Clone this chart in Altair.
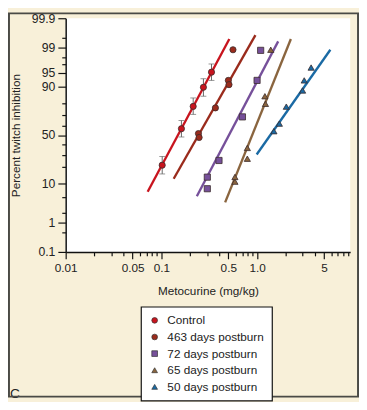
import altair as alt
import pandas as pd
from statistics import NormalDist

# ---------------- data ----------------
series = ["Control", "463 days postburn", "72 days postburn", "65 days postburn", "50 days postburn"]
colors = ["#C8141E", "#9A2B1C", "#76509A", "#8A653F", "#1A6AA4"]
shapes = ["circle", "circle", "square", "triangle-up", "triangle-up"]

control_dose = [0.102, 0.162, 0.215, 0.275, 0.334]
control_pct = [21.3, 56.7, 77.6, 89.7, 95.2]
control_lo = [15.2, 48.0, 70.8, 84.8, 92.6]
control_hi = [28.6, 65.0, 83.7, 93.2, 97.0]

d463_dose = [0.244, 0.248, 0.367, 0.501, 0.509, 0.560]
d463_pct = [51.6, 47.5, 76.4, 92.6, 90.9, 98.8]

d72_dose = [0.302, 0.302, 0.400, 0.703, 1.00, 1.09]
d72_pct = [7.8, 13.3, 25.1, 68.5, 92.6, 98.75]

d65_dose = [0.587, 0.587, 0.791, 0.791, 1.207, 1.224, 1.39]
d65_pct = [10.9, 13.4, 26.6, 36.7, 84.8, 79.6, 98.8]

d50_dose = [1.50, 1.71, 2.02, 2.99, 3.11, 3.67]
d50_pct = [54.1, 61.9, 77.4, 88.1, 92.6, 96.3]

# fitted regression lines: start and end points per series
line_dose_start = [0.0719, 0.1345, 0.2347, 0.4638, 0.9906]
line_pct_start = [6.7, 12.4, 5.3, 3.75, 30.4]
line_dose_end = [0.513, 0.961, 1.661, 2.255, 5.83]
line_pct_end = [99.45, 99.59, 99.34, 99.45, 98.8]

# axis ticks
x_major = [0.01, 0.05, 0.1, 0.5, 1, 5]
x_major_text = ["0.01", "0.05", "0.1", "0.5", "1.0", "5"]
x_minor = [0.02, 0.03, 0.04, 0.06, 0.07, 0.08, 0.09,
           0.2, 0.3, 0.4, 0.6, 0.7, 0.8, 0.9,
           2, 3, 4, 6, 7, 8, 9]
y_major = [0.1, 1, 10, 50, 90, 95, 99, 99.9]
y_major_text = ["0.1", "1", "10", "50", "90", "95", "99", "99.9"]
y_minor = [0.5, 2, 5, 20, 30, 40, 60, 70, 80, 97, 98, 99.5]

# ---------------- tables ----------------
pts = []
for name, d, p in [(series[0], control_dose, control_pct), (series[1], d463_dose, d463_pct),
                   (series[2], d72_dose, d72_pct), (series[3], d65_dose, d65_pct),
                   (series[4], d50_dose, d50_pct)]:
    for a, b in zip(d, p):
        pts.append({"series": name, "dose": a, "pct": b})
pts = pd.DataFrame(pts)

err = pd.DataFrame({"series": series[0], "dose": control_dose, "lo": control_lo, "hi": control_hi})

# ---------------- helpers ----------------
nd = NormalDist()
def probit(p):
    return nd.inv_cdf(p / 100.0)

def label_expr(values, texts):
    e = ""
    for v, t in zip(values, texts):
        e += f"datum.value == {v!r} ? '{t}' : "
    return e + "''"

def major_test(values):
    return " || ".join(f"datum.value == {v!r}" for v in values)

y_major_z = [probit(p) for p in y_major]
y_minor_z = [probit(p) for p in y_minor]
zmax = probit(99.9)

FONT = "Liberation Sans"

x_axis = alt.Axis(
    values=x_major + x_minor,
    labelExpr=label_expr(x_major, x_major_text),
    tickSize={"condition": {"test": major_test(x_major), "value": 7}, "value": 4},
    labelOverlap=False, labelFlush=False, grid=False,
    domainColor="#111", domainWidth=1.5, tickColor="#111", tickWidth=1.2,
    labelFont=FONT, labelFontSize=12, labelColor="#222", labelPadding=4,
    titleFont=FONT, titleFontSize=12, titleFontWeight="normal", titleColor="#222", titlePadding=13,
)
y_axis = alt.Axis(
    values=y_major_z + y_minor_z,
    labelExpr=label_expr(y_major_z, y_major_text),
    tickSize={"condition": {"test": major_test(y_major_z), "value": 8}, "value": 4},
    labelOverlap=False, labelFlush=False, grid=False,
    domainColor="#111", domainWidth=1.5, tickColor="#111", tickWidth=1.2,
    labelFont=FONT, labelFontSize=12.5, labelColor="#222", labelPadding=3,
    titleFont=FONT, titleFontSize=12, titleFontWeight="normal", titleColor="#222", titlePadding=9,
)

x_scale = alt.Scale(type="log", domain=[0.01, 9.4], nice=False)
y_scale = alt.Scale(domain=[-zmax, zmax], nice=False, zero=False)
X = alt.X("dose:Q", scale=x_scale, axis=x_axis, title="Metocurine (mg/kg)")
Y = alt.Y("z:Q", scale=y_scale, axis=y_axis, title="Percent twitch inhibition")

legend = alt.Legend(
    orient="none", legendX=77, legendY=295, title=None,
    padding=8, strokeColor="#111", fillColor="white",
    labelFont=FONT, labelFontSize=12, labelColor="#222", labelOffset=7,
    symbolSize=34, rowPadding=5, symbolStrokeColor="#333", symbolStrokeWidth=0.7,
)
color = alt.Color("series:N", scale=alt.Scale(domain=series, range=colors), legend=legend)
shape = alt.Shape("series:N", scale=alt.Scale(domain=series, range=shapes), legend=legend)

# one fitted line per series, each with its own constant colour
line_layers = []
for i, name in enumerate(series):
    df = pd.DataFrame({"dose": [line_dose_start[i], line_dose_end[i]],
                       "pct": [line_pct_start[i], line_pct_end[i]]})
    line_layers.append(
        alt.Chart(df).transform_calculate(z="quantileNormal(datum.pct / 100)")
        .mark_line(strokeWidth=2.4, color=colors[i]).encode(x=X, y=Y)
    )

err_rule = alt.Chart(err).transform_calculate(
    z="quantileNormal(datum.lo / 100)", z2="quantileNormal(datum.hi / 100)"
).mark_rule(color="#666", strokeWidth=1).encode(x=X, y=Y, y2="z2:Q")

err_lo = alt.Chart(err).transform_calculate(
    z="quantileNormal(datum.lo / 100)"
).mark_tick(color="#666", orient="horizontal", size=6, thickness=1).encode(x=X, y=Y)

err_hi = alt.Chart(err).transform_calculate(
    z="quantileNormal(datum.hi / 100)"
).mark_tick(color="#666", orient="horizontal", size=6, thickness=1).encode(x=X, y=Y)

point_layer = alt.Chart(pts).transform_calculate(
    z="quantileNormal(datum.pct / 100)"
).mark_point(filled=True, size=40, stroke="#3a2a2a", strokeWidth=0.8, opacity=1).encode(
    x=X, y=Y, color=color, shape=shape,
)

# panel letter and frame (annotations)
letter = alt.Chart(pd.DataFrame({"t": ["C"]})).mark_text(
    font=FONT, fontSize=14, color="#222", align="left", baseline="middle"
).encode(text="t:N", x=alt.value(-57), y=alt.value(384))

frame = alt.Chart(pd.DataFrame({"a": [0]})).mark_rect(
    fillOpacity=0, stroke="#4a4a46", strokeWidth=2
).encode(x=alt.value(-58), x2=alt.value(299), y=alt.value(-5), y2=alt.value(387))

chart = alt.layer(
    *line_layers, err_rule, err_lo, err_hi, point_layer, letter, frame
).properties(
    width=291, height=239,
    autosize=alt.AutoSizeParams(type="none"),
    padding={"left": 59, "top": 6, "right": 9, "bottom": 149},
    background="#F8F0D9",
).configure_view(
    fill="white", stroke=None
).configure_legend(strokeWidth=1.2)

chart.save("out.html", embed_options={"renderer": "svg", "actions": False})
